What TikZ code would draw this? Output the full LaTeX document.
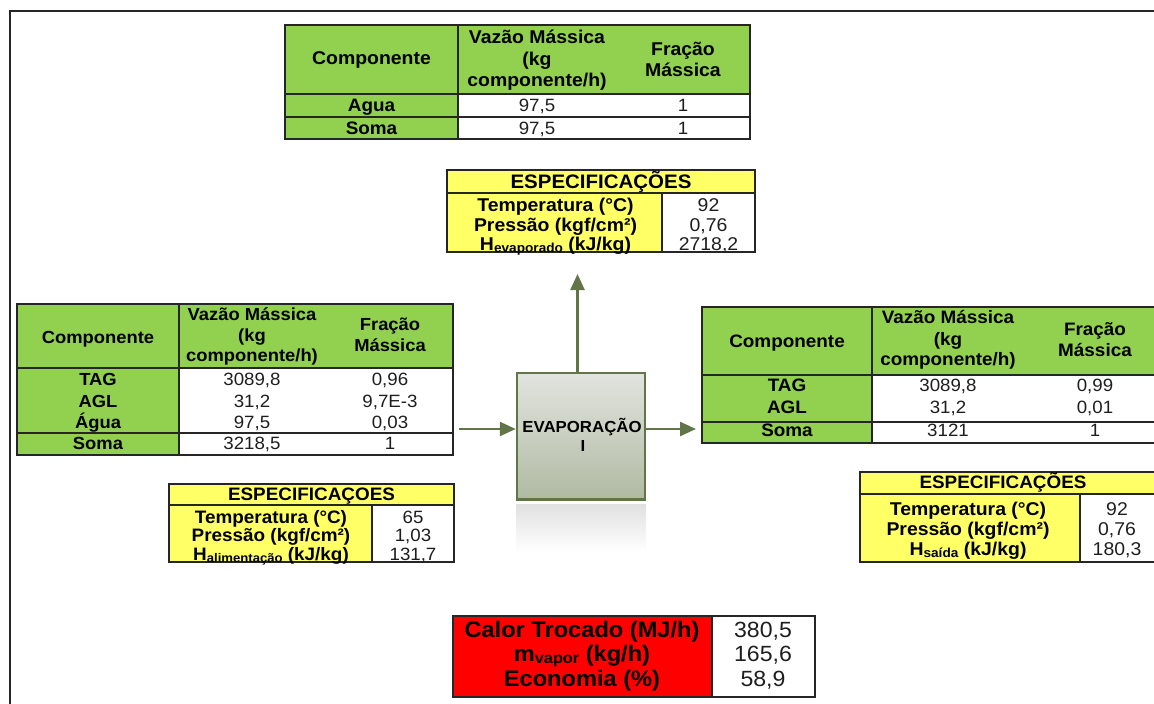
\documentclass[tikz,border=0pt]{standalone}
\usepackage{fontspec}
\setmainfont{Liberation Sans}[FakeStretch=1.05]
\usetikzlibrary{arrows.meta}
\definecolor{xgreen}{RGB}{146,208,80}
\definecolor{xyellow}{RGB}{255,255,102}
\definecolor{xred}{RGB}{255,0,0}
\definecolor{boxedge}{RGB}{98,117,72}
\definecolor{boxtop}{RGB}{226,228,223}
\definecolor{boxbot}{RGB}{176,186,162}
\definecolor{valcol}{RGB}{30,30,30}
\newcommand{\sbs}[2]{\raisebox{-2pt}{\fontsize{#1}{#1}\selectfont #2}}
\begin{document}
\begin{tikzpicture}[x=1pt,y=-1pt,
  grid/.style={draw=black!85,line width=1.1pt},
  hd/.style={anchor=base,inner sep=0pt,font=\bfseries\fontsize{17.5}{20}\selectfont},
  hdA/.style={anchor=base,inner sep=0pt,font=\bfseries\fontsize{18.5}{20}\selectfont},
  hdC/.style={anchor=base,inner sep=0pt,font=\bfseries\fontsize{18}{20}\selectfont},
  val/.style={anchor=base,inner sep=0pt,text=valcol,font=\fontsize{17.8}{20}\selectfont},
  sp/.style={anchor=base,inner sep=0pt,font=\bfseries\fontsize{18.5}{20}\selectfont},
  spB/.style={anchor=base,inner sep=0pt,font=\bfseries\fontsize{18}{20}\selectfont},
  spv/.style={anchor=base,inner sep=0pt,text=valcol,font=\fontsize{18.5}{20}\selectfont},
  rl/.style={anchor=base,inner sep=0pt,font=\bfseries\fontsize{22.5}{24}\selectfont},
  rv/.style={anchor=base,inner sep=0pt,text=valcol,font=\fontsize{22}{24}\selectfont},
  flow/.style={draw=boxedge,line width=2.4pt,-{Triangle[length=16pt,width=14pt]}},
  boxtxt/.style={anchor=base,inner sep=0pt,font=\bfseries\fontsize{16}{20}\selectfont}]
\useasboundingbox (0,0) rectangle (1154,704);
\clip (0,0) rectangle (1154,704);
\fill[white] (0,0) rectangle (1154,704);
% outer frame
\draw[line width=2pt,black!85] (9.5,720) -- (9.5,10.5) -- (1170,10.5);

% ---------- top table ----------
\fill[xgreen] (285,25) rectangle (458,139);
\fill[xgreen] (458,25) rectangle (750,94);
\fill[white] (458,94) rectangle (750,139);
\draw[grid] (285,25) rectangle (750,139);
\draw[grid] (285,94) -- (750,94) (285,117) -- (750,117) (458,25) -- (458,139);
\node[hdA] (t1c) at (371.5,64.5) {Componente};
\node[hdA] (t1v1) at (537,43.3) {Vazão Mássica};
\node[hdA] (t1v2) at (537,65) {(kg};
\node[hdA] (t1v3) at (537,86.7) {componente/h)};
\node[hdA] (t1f1) at (683,55) {Fração};
\node[hdA] (t1f2) at (683,76.7) {Mássica};
\node[hdC] (t1r1) at (371.5,111.7) {Agua};
\node[hdC] (t1r2) at (371.5,134) {Soma};
\node[val] (t1a1) at (537,111.7) {97,5};
\node[val] (t1a2) at (683,111.7) {1};
\node[val] (t1b1) at (537,134) {97,5};
\node[val] (t1b2) at (683,134) {1};

% ---------- top specs ----------
\fill[xyellow] (447,170) rectangle (755,193);
\fill[xyellow] (447,193) rectangle (662,252);
\fill[white] (662,193) rectangle (755,252);
\draw[grid] (447,170) rectangle (755,252);
\draw[grid] (447,193) -- (755,193) (662,193) -- (662,252);
\node[font=\bfseries\fontsize{19.5}{20}\selectfont,anchor=base,inner sep=0pt] (s1t) at (601,188.3) {ESPECIFICAÇÕES};
\node[sp] (s1l1) at (555.5,211.7) {Temperatura (°C)};
\node[sp] (s1l2) at (555.5,231.7) {Pressão (kgf/cm²)};
\node[sp] (s1l3) at (555.5,250) {H\sbs{13}{evaporado} (kJ/kg)};
\node[spv] (s1v1) at (708.5,211.7) {92};
\node[spv] (s1v2) at (708.5,231.7) {0,76};
\node[spv] (s1v3) at (708.5,250) {2718,2};

% ---------- left table ----------
\fill[xgreen] (17,304) rectangle (179,455);
\fill[xgreen] (179,304) rectangle (453,368);
\fill[white] (179,368) rectangle (453,455);
\draw[grid] (17,304) rectangle (453,455);
\draw[grid] (17,368) -- (453,368) (17,433) -- (453,433) (179,304) -- (179,455);
\node[hd] (t2c) at (98,343) {Componente};
\node[hd] (t2v1) at (252,320) {Vazão Mássica};
\node[hd] (t2v2) at (252,341.7) {(kg};
\node[hd] (t2v3) at (252,361.7) {componente/h)};
\node[hd] (t2f1) at (390,330) {Fração};
\node[hd] (t2f2) at (390,351.7) {Mássica};
\node[hd] (t2r1) at (98,385.7) {TAG};
\node[hd] (t2r2) at (98,407.3) {AGL};
\node[hd] (t2r3) at (98,428.3) {Água};
\node[hd] (t2r4) at (98,449.3) {Soma};
\node[val] (t2a1) at (252,385.7) {3089,8};
\node[val] (t2a2) at (390,385.7) {0,96};
\node[val] (t2b1) at (252,407.3) {31,2};
\node[val] (t2b2) at (390,407.3) {9,7E-3};
\node[val] (t2c1) at (252,428.3) {97,5};
\node[val] (t2c2) at (390,428.3) {0,03};
\node[val] (t2d1) at (252,449.3) {3218,5};
\node[val] (t2d2) at (390,449.3) {1};

% ---------- left specs ----------
\fill[xyellow] (169,484) rectangle (454,505);
\fill[xyellow] (169,505) rectangle (372,562);
\fill[white] (372,505) rectangle (454,562);
\draw[grid] (169,484) rectangle (454,562);
\draw[grid] (169,505) -- (454,505) (372,505) -- (372,562);
\node[spB] (s2t) at (311.5,500) {ESPECIFICAÇOES};
\node[spB] (s2l1) at (271,523.3) {Temperatura (°C)};
\node[spB] (s2l2) at (271,541.7) {Pressão (kgf/cm²)};
\node[spB] (s2l3) at (271,560) {H\sbs{12.5}{alimentação} (kJ/kg)};
\node[val] (s2v1) at (413,523.3) {65};
\node[val] (s2v2) at (413,541.7) {1,03};
\node[val] (s2v3) at (413,560) {131,7};

% ---------- right table ----------
\fill[xgreen] (702,307) rectangle (872,443);
\fill[xgreen] (872,307) rectangle (1165,375);
\fill[white] (872,375) rectangle (1165,443);
\draw[grid] (702,307) rectangle (1165,443);
\draw[grid] (702,375) -- (1165,375) (702,422) -- (1165,422) (872,307) -- (872,443);
\node[hdC] (t3c) at (787,347) {Componente};
\node[hdC] (t3v1) at (948,323.3) {Vazão Mássica};
\node[hdC] (t3v2) at (948,345) {(kg};
\node[hdC] (t3v3) at (948,365) {componente/h)};
\node[hdC] (t3f1) at (1095,335) {Fração};
\node[hdC] (t3f2) at (1095,356.7) {Mássica};
\node[hdC] (t3r1) at (787,391.7) {TAG};
\node[hdC] (t3r2) at (787,413.3) {AGL};
\node[hdC] (t3r3) at (787,436.7) {Soma};
\node[val] (t3a1) at (948,391.7) {3089,8};
\node[val] (t3a2) at (1095,391.7) {0,99};
\node[val] (t3b1) at (948,413.3) {31,2};
\node[val] (t3b2) at (1095,413.3) {0,01};
\node[val] (t3c1) at (948,436.7) {3121};
\node[val] (t3c2) at (1095,436.7) {1};

% ---------- right specs ----------
\fill[xyellow] (860,472) rectangle (1157,494);
\fill[xyellow] (860,494) rectangle (1080,562);
\fill[white] (1080,494) rectangle (1157,562);
\draw[grid] (860,472) rectangle (1157,562);
\draw[grid] (860,494) -- (1157,494) (1080,494) -- (1080,562);
\node[spB] (s3t) at (1003,488.3) {ESPECIFICAÇÕES};
\node[sp] (s3l1) at (968,515) {Temperatura (°C)};
\node[sp] (s3l2) at (968,535) {Pressão (kgf/cm²)};
\node[sp] (s3l3) at (968,555) {H\sbs{13}{saída} (kJ/kg)};
\node[spv] (s3v1) at (1117,515) {92};
\node[spv] (s3v2) at (1117,535) {0,76};
\node[spv] (s3v3) at (1117,555) {180,3};

% ---------- result table ----------
\fill[xred] (453,616) rectangle (712,697);
\fill[white] (712,616) rectangle (815,697);
\draw[grid] (453,616) rectangle (815,697);
\draw[grid] (712,616) -- (712,697);
\node[rl] (r1) at (582,637.3) {Calor Trocado (MJ/h)};
\node[rl] (r2) at (582,661.7) {m\sbs{15.5}{vapor} (kg/h)};
\node[rl] (r3) at (582,686) {Economia (\%)};
\node[rv] (rv1) at (763,637.3) {380,5};
\node[rv] (rv2) at (763,661.7) {165,6};
\node[rv] (rv3) at (763,686) {58,9};

% ---------- evaporator ----------
\shade[top color=black!12,bottom color=white] (516,504) rectangle (646,552);
\node[draw=boxedge,line width=2.5pt,top color=boxtop,bottom color=boxbot,
      minimum width=128pt,minimum height=126.5pt,inner sep=0pt] (evap) at (581,436.2) {};
\node[boxtxt] (evapA) at (582,432.7) {EVAPORAÇÃO};
\node[boxtxt] (evapB) at (583,451.7) {I};

\coordinate (inS) at (459,429);
\coordinate (outE) at (696,429);
\coordinate (upN) at (577.5,274);
\draw[flow] (inS) -- (inS -| evap.west);
\draw[flow] (outE -| evap.east) -- (outE);
\draw[flow] (upN |- evap.north) -- (upN);
\end{tikzpicture}
\end{document}
